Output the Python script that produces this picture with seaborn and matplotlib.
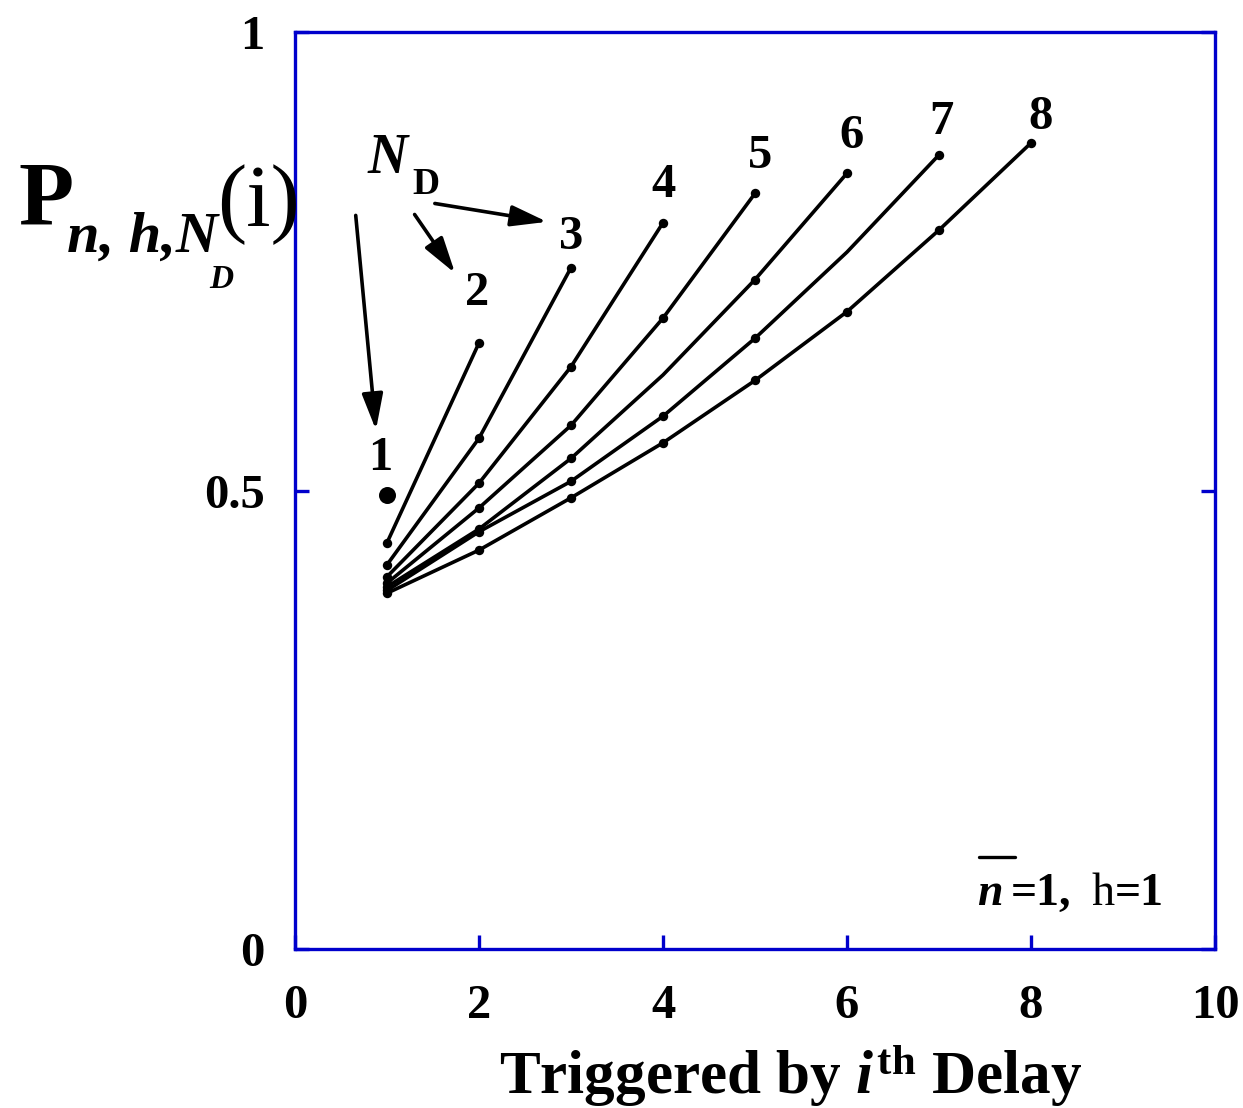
import matplotlib
matplotlib.use("Agg")
import matplotlib.pyplot as plt
from matplotlib.lines import Line2D
import numpy as np
import pandas as pd
import seaborn as sns

# Probability of triggering by the i-th delay, one curve per number of delays N_D
nd_levels = [1, 2, 3, 4, 5, 6, 7, 8]
p_nd1 = [0.495]
p_nd2 = [0.443, 0.661]
p_nd3 = [0.419, 0.557, 0.743]
p_nd4 = [0.406, 0.508, 0.635, 0.792]
p_nd5 = [0.399, 0.481, 0.571, 0.688, 0.824]
p_nd6 = [0.395, 0.458, 0.535, 0.626, 0.730, 0.846]
p_nd7 = [0.391, 0.455, 0.510, 0.581, 0.666, 0.760, 0.866]
p_nd8 = [0.388, 0.435, 0.492, 0.552, 0.620, 0.695, 0.784, 0.879]
curves = [p_nd1, p_nd2, p_nd3, p_nd4, p_nd5, p_nd6, p_nd7, p_nd8]

# (N_D, i) points drawn without a dot
unmarked = [(6, 4), (7, 6)]

x_ticks = [0, 2, 4, 6, 8, 10]
x_ticklabels = ["0", "2", "4", "6", "8", "10"]
y_ticks = [0, 0.5, 1]
y_ticklabels = ["0", "0.5", "1"]

rows = []
for nd, vals in zip(nd_levels, curves):
    for i, p in enumerate(vals, start=1):
        rows.append({"nd": nd, "i": i, "p": p, "marked": (nd, i) not in unmarked})
df = pd.DataFrame(rows)

sns.set_style("white")
plt.rcParams["font.family"] = ["Liberation Serif", "DejaVu Serif"]
plt.rcParams["text.color"] = "black"
plt.rcParams["axes.labelcolor"] = "black"
plt.rcParams["xtick.color"] = "black"
plt.rcParams["ytick.color"] = "black"
plt.rcParams["mathtext.fontset"] = "custom"
plt.rcParams["mathtext.it"] = "Liberation Serif:italic:bold"
plt.rcParams["mathtext.bf"] = "Liberation Serif:bold"
plt.rcParams["mathtext.rm"] = "Liberation Serif"

W, H = 1243, 1108
BLUE = "#0000cc"


def fx(px):
    return px / W


def fy(py):
    return 1 - py / H


fig = plt.figure(figsize=(W / 100, H / 100), dpi=100)
ax = fig.add_axes([fx(295), fy(949), (1215 - 295) / W, (949 - 32) / H])

multi = df[df["nd"] > 1]
sns.lineplot(data=multi, x="i", y="p", hue="nd", palette=["black"] * 7,
             estimator=None, legend=False, linewidth=2.6, ax=ax)
sns.scatterplot(data=multi[multi["marked"]], x="i", y="p", color="black",
                s=46, linewidth=0, ax=ax, zorder=3)
sns.scatterplot(data=df[df["nd"] == 1], x="i", y="p", color="black",
                s=150, linewidth=0, ax=ax, zorder=3)

# Curve labels placed just above each curve's last point (offsets in points)
label_offsets = [(-5, 27), (-1.5, 36), (0, 22), (0.7, 27), (3.6, 27), (3, 27), (2, 24), (7, 19)]
for nd, vals, off in zip(nd_levels, curves, label_offsets):
    ax.annotate(str(nd), xy=(len(vals), vals[-1]), xytext=off, textcoords="offset points",
                ha="center", va="center", fontsize=35, fontweight="bold")

# N_D legend with arrows
fig.text(fx(368), fy(173), "N", fontsize=40, fontstyle="italic", fontweight="bold",
         va="baseline", ha="left")
fig.text(fx(412), fy(194), "D", fontsize=27, fontweight="bold", va="baseline", ha="left")
arrow_kw = dict(arrowstyle="-|>,head_length=1.1,head_width=0.32", lw=2.6, color="black",
                shrinkA=0, shrinkB=0, mutation_scale=20)
for start, tip in [((0.66, 0.800), (0.88, 0.566)),
                   ((1.30, 0.801), (1.74, 0.737)),
                   ((1.52, 0.813), (2.74, 0.793))]:
    ax.annotate("", xy=tip, xytext=start, arrowprops=arrow_kw)

ax.set_xlim(0, 10)
ax.set_ylim(0, 1)
ax.set_xticks(x_ticks)
ax.set_xticklabels(x_ticklabels)
ax.set_yticks(y_ticks)
ax.set_yticklabels(y_ticklabels)
ax.set_xlabel("")
ax.set_ylabel("")
ax.tick_params(axis="both", direction="in", length=10, width=2.4, color=BLUE,
               labelcolor="black", labelsize=35)
ax.tick_params(axis="y", left=True, right=True, pad=22)
ax.tick_params(axis="x", bottom=True, top=False, pad=25)
for lbl in ax.get_xticklabels() + ax.get_yticklabels():
    lbl.set_fontweight("bold")
for sp in ax.spines.values():
    sp.set_visible(True)
    sp.set_color(BLUE)
    sp.set_linewidth(2.4)

# Parameter note, lower right
fig.text(fx(977), fy(905), "n", fontsize=33, fontstyle="italic", fontweight="bold",
         va="baseline", ha="left")
fig.add_artist(Line2D([fx(979), fx(1015)], [fy(857), fy(857)], lw=2.4, color="black"))
fig.text(fx(1011), fy(905), "=1,", fontsize=33, fontweight="bold", va="baseline", ha="left")
fig.text(fx(1092), fy(905), "h", fontsize=33, va="baseline", ha="left")
fig.text(fx(1115), fy(905), "=1", fontsize=33, fontweight="bold", va="baseline", ha="left")

# Axis titles
fig.text(fx(791), fy(1094), r"Triggered by $i^{\mathbf{th}}$ Delay", fontsize=44,
         fontweight="bold", ha="center", va="baseline")
fig.text(fx(18), fy(225), "P", fontsize=65, fontweight="bold", ha="left", va="baseline")
fig.text(fx(67), fy(252), "n, h,N", fontsize=42, fontstyle="italic", fontweight="bold",
         ha="left", va="baseline")
fig.text(fx(209), fy(288), "D", fontsize=24, fontstyle="italic", fontweight="bold",
         ha="left", va="baseline")
fig.text(fx(217), fy(226), "(i)", fontsize=63, ha="left", va="baseline")

fig.savefig("out.png", dpi=100)
